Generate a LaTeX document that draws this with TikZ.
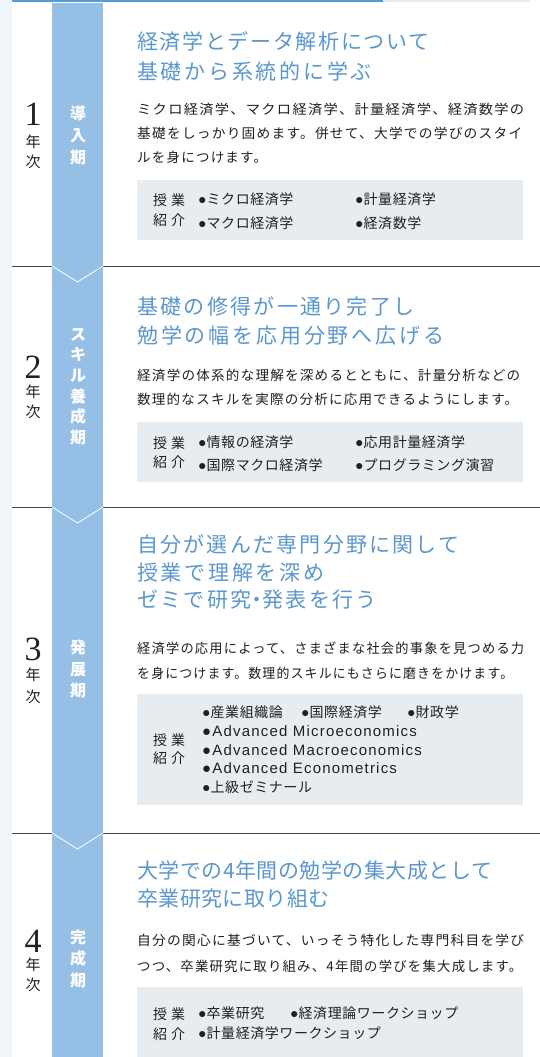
\documentclass[tikz,border=0pt]{standalone}
\usepackage{fontspec}
\usepackage{graphicx}
\newfontfamily\jp{Noto Sans CJK JP}
\newfontfamily\jpyear{Noto Sans CJK JP}
\newfontfamily\jphead{Noto Sans CJK JP}
\newfontfamily\jpbody[LetterSpace=9]{Noto Sans CJK JP}
\newfontfamily\jpitem[LetterSpace=4]{Noto Sans CJK JP}
\newfontfamily\jplab[LetterSpace=28]{Noto Sans CJK JP}
\newfontfamily\latitem[LetterSpace=8]{Liberation Sans}
\newfontfamily\yearfont{Liberation Serif}
\newcommand\itembul{{\latitem ●}}
\newcommand\lsp[1]{\addfontfeatures{LetterSpace=#1}}
\newcommand\fitline[2]{\resizebox{#1pt}{\height}{#2}}
\definecolor{headblue}{HTML}{5B97CF}
\definecolor{bandblue}{HTML}{95BFE5}
\definecolor{barblue}{HTML}{5A9BD5}
\definecolor{bargray}{HTML}{E6EBF0}
\definecolor{boxgray}{HTML}{E7ECF1}
\definecolor{stripc}{HTML}{F1F6FB}
\definecolor{sepc}{HTML}{4A4546}
\definecolor{txt}{HTML}{231F20}
\tikzset{
  head/.style={anchor=west, inner sep=0pt, font=\jphead\fontsize{21}{21}\selectfont, text=headblue},
  body/.style={anchor=west, inner sep=0pt, font=\jpbody\fontsize{13.5}{13.5}\selectfont, text=txt},
  item/.style={anchor=west, inner sep=0pt, font=\jpitem\fontsize{14}{14}\selectfont, text=txt},
  latline/.style={anchor=west, inner sep=0pt, font=\latitem\fontsize{15}{15}\selectfont, text=txt},
  lab/.style={anchor=west, inner sep=0pt, font=\jplab\fontsize{14}{14}\selectfont, text=txt},
  yearnum/.style={anchor=center, inner sep=0pt, font=\yearfont\fontsize{34}{34}\selectfont, text=txt},
  yearch/.style={anchor=center, inner sep=0pt, font=\jpyear\fontsize{15}{15}\selectfont, text=txt},
  bandtext/.style={anchor=center, inner sep=0pt, align=center, text=white},
  sepline/.style={draw=sepc, line width=0.9pt},
  chevron/.style={draw=white, line width=0.8pt},
  classbox/.style={fill=boxgray}
}
\begin{document}
\begin{tikzpicture}[x=1pt, y=-1pt]
\useasboundingbox (0,0) rectangle (540,1057);
\fill[white] (0,0) rectangle (540,1057);
\fill[stripc] (0,0) rectangle (12,1057);
\fill[barblue] (12,0) rectangle (383,2);
\fill[bargray] (383,0) rectangle (530,2);
% separators
\draw[sepline] (12,266) -- (540,266);
\draw[sepline] (12,507) -- (540,507);
\draw[sepline] (12,833) -- (540,833);
% band
\fill[bandblue] (52,3) rectangle (103,1057);
\draw[chevron] (52,266) -- (77.5,282) -- (103,266);
\draw[chevron] (52,507) -- (77.5,523) -- (103,507);
\draw[chevron] (52,833) -- (77.5,849) -- (103,833);
% class boxes
\fill[classbox] (137,180) rectangle (523,240);
\fill[classbox] (137,422) rectangle (523,482);
\fill[classbox] (137,694) rectangle (523,805);
\fill[classbox] (137,987) rectangle (523,1057);

% ---------- Year 1 ----------
\node[yearnum] (y1n) at (33,114) {1};
\node[yearch] (y1a) at (33,142) {年};
\node[yearch] (y1b) at (33,162) {次};
\node[bandtext, font=\jp\bfseries\fontsize{16}{22}\selectfont] (b1) at (78,135.5) {導\\入\\期};
\node[head] (h1a) at (137,41) {\lsp{8}経済学とデータ解析について};
\node[head] (h1b) at (137,72) {\lsp{13}基礎から系統的に学ぶ};
\node[body] (t1a) at (137,109.5) {\fitline{387}{ミクロ経済学、マクロ経済学、計量経済学、経済数学の}};
\node[body] (t1b) at (137,133.5) {\fitline{385}{基礎をしっかり固めます。併せて、大学での学びのスタイ}};
\node[body] (t1c) at (137,157.5) {ルを身につけます。};
\node[lab] (l1a) at (153,200) {授業};
\node[lab] (l1b) at (153,220) {紹介};
\node[item] (i1a) at (198,199) {\itembul ミクロ経済学};
\node[item] (i1b) at (198,223) {\itembul マクロ経済学};
\node[item] (i1c) at (355,199) {\itembul 計量経済学};
\node[item] (i1d) at (355,223) {\itembul 経済数学};

% ---------- Year 2 ----------
\node[yearnum] (y2n) at (33,367.5) {2};
\node[yearch] (y2a) at (33,392) {年};
\node[yearch] (y2b) at (33,412) {次};
\node[bandtext, font=\jp\bfseries\fontsize{16}{20.6}\selectfont] (b2) at (78,386.5) {ス\\キ\\ル\\養\\成\\期};
\node[head] (h2a) at (137,306) {\lsp{11}基礎の修得が一通り完了し};
\node[head] (h2b) at (137,336) {\lsp{13.5}勉学の幅を応用分野へ広げる};
\node[body] (t2a) at (137,375) {\fitline{383}{経済学の体系的な理解を深めるとともに、計量分析などの}};
\node[body] (t2b) at (137,399) {\fitline{381}{数理的なスキルを実際の分析に応用できるようにします。}};
\node[lab] (l2a) at (153,443) {授業};
\node[lab] (l2b) at (153,462) {紹介};
\node[item] (i2a) at (198,442) {\itembul 情報の経済学};
\node[item] (i2b) at (198,465) {\itembul 国際マクロ経済学};
\node[item] (i2c) at (355,442) {\itembul 応用計量経済学};
\node[item] (i2d) at (355,465) {\itembul プログラミング演習};

% ---------- Year 3 ----------
\node[yearnum] (y3n) at (33,649) {3};
\node[yearch] (y3a) at (33,675) {年};
\node[yearch] (y3b) at (33,697) {次};
\node[bandtext, font=\jp\bfseries\fontsize{16}{21.3}\selectfont] (b3) at (78,669) {発\\展\\期};
\node[head] (h3a) at (137,545) {\lsp{10.6}自分が選んだ専門分野に関して};
\node[head] (h3b) at (137,572.5) {\lsp{13}授業で理解を深め};
\node[head] (h3c) at (137,600) {\lsp{11}ゼミで研究\kern-5pt・\kern-5pt発表を行う};
\node[body] (t3a) at (137,648) {\fitline{387}{経済学の応用によって、さまざまな社会的事象を見つめる力}};
\node[body] (t3b) at (137,673) {\fitline{376}{を身につけます。数理的スキルにもさらに磨きをかけます。}};
\node[lab] (l3a) at (153,740) {授業};
\node[lab] (l3b) at (153,758) {紹介};
\node[item] (i3a) at (202,712) {\itembul 産業組織論};
\node[item] (i3b) at (301,712) {\itembul 国際経済学};
\node[item] (i3c) at (407,712) {\itembul 財政学};
\node[latline] (i3d) at (202,731) {●Advanced Microeconomics};
\node[latline] (i3e) at (202,750) {●Advanced Macroeconomics};
\node[latline] (i3f) at (202,768) {●Advanced Econometrics};
\node[item] (i3g) at (202,787) {\itembul 上級ゼミナール};

% ---------- Year 4 ----------
\node[yearnum] (y4n) at (33,941) {4};
\node[yearch] (y4a) at (33,965) {年};
\node[yearch] (y4b) at (33,985) {次};
\node[bandtext, font=\jp\bfseries\fontsize{16}{21.5}\selectfont] (b4) at (78,958.5) {完\\成\\期};
\node[head] (h4a) at (137,871) {\lsp{2.4}大学での4年間の勉学の集大成として};
\node[head] (h4b) at (137,899) {\lsp{2}卒業研究に取り組む};
\node[body] (t4a) at (137,940) {\fitline{387}{自分の関心に基づいて、いっそう特化した専門科目を学び}};
\node[body] (t4b) at (137,966) {\fitline{385}{つつ、卒業研究に取り組み、4年間の学びを集大成します。}};
\node[lab] (l4a) at (153,1014) {授業};
\node[lab] (l4b) at (153,1034) {紹介};
\node[item] (i4a) at (198,1013) {\itembul 卒業研究};
\node[item] (i4b) at (290,1013) {\itembul 経済理論ワークショップ};
\node[item] (i4c) at (198,1033) {\itembul 計量経済学ワークショップ};
\end{tikzpicture}
\end{document}
